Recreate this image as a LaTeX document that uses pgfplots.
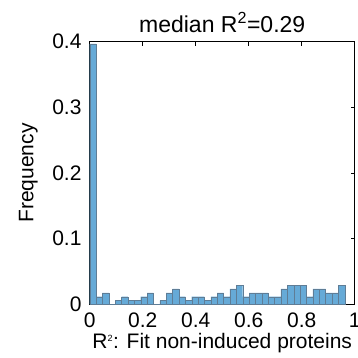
\documentclass[border=0pt]{standalone}
\usepackage{fontspec}
\setmainfont{Liberation Sans}
\usepackage{pgfplots}
\pgfplotsset{compat=1.18}
\definecolor{barblue}{RGB}{102,170,215}
\definecolor{baredge}{RGB}{95,125,150}
\pgfplotstableread{
x y
0.00000 0.3964
0.02406 0.0118
0.04812 0.0178
0.07219 0.0000
0.09625 0.0059
0.12031 0.0118
0.14437 0.0059
0.16844 0.0059
0.19250 0.0118
0.21656 0.0178
0.24062 0.0000
0.26469 0.0059
0.28875 0.0178
0.31281 0.0237
0.33687 0.0118
0.36094 0.0059
0.38500 0.0118
0.40906 0.0118
0.43312 0.0059
0.45719 0.0118
0.48125 0.0178
0.50531 0.0118
0.52937 0.0237
0.55344 0.0296
0.57750 0.0118
0.60156 0.0178
0.62562 0.0178
0.64969 0.0178
0.67375 0.0118
0.69781 0.0118
0.72187 0.0237
0.74594 0.0296
0.77000 0.0296
0.79406 0.0296
0.81812 0.0118
0.84219 0.0237
0.86625 0.0237
0.89031 0.0178
0.91437 0.0178
0.93844 0.0296
0.96250 0.0296
}\histdata
\begin{document}
\begin{tikzpicture}
\begin{axis}[
  at={(0,0)}, anchor=south west,
  scale only axis, width=265pt, height=263pt,
  xmin=0, xmax=1, ymin=0, ymax=0.4,
  xtick={0,0.2,0.4,0.6,0.8,1},
  xticklabels={0,0.2,0.4,0.6,0.8,1},
  ytick={0,0.1,0.2,0.3,0.4},
  yticklabels={0,0.1,0.2,0.3,0.4},
  tick align=inside,
  major tick length=4pt,
  tick style={black, line width=0.5pt},
  axis line style={black, line width=0.6pt},
  ticklabel style={font=\fontsize{21}{25}\selectfont, inner sep=1pt},
  xticklabel style={yshift=-7pt},
  yticklabel style={xshift=-7pt},
  label style={font=\fontsize{21}{25}\selectfont},
  title style={font=\fontsize{23}{27}\selectfont, yshift=-1pt},
  title={median R\textsuperscript{2}=0.29},
  xlabel={R\textsuperscript{\fontsize{9}{10}\selectfont 2}: Fit non-induced proteins},
  xlabel style={yshift=-4pt, inner sep=1pt},
  ylabel={Frequency},
  ylabel style={yshift=10pt},
]
\addplot[ybar interval, fill=barblue, draw=baredge, line width=0.35pt] table[x=x,y=y] {\histdata};
\end{axis}
\pgfresetboundingbox
\path[use as bounding box] (-89.7pt,-53.5pt) rectangle (268.3pt,304.5pt);
\end{tikzpicture}
\end{document}
